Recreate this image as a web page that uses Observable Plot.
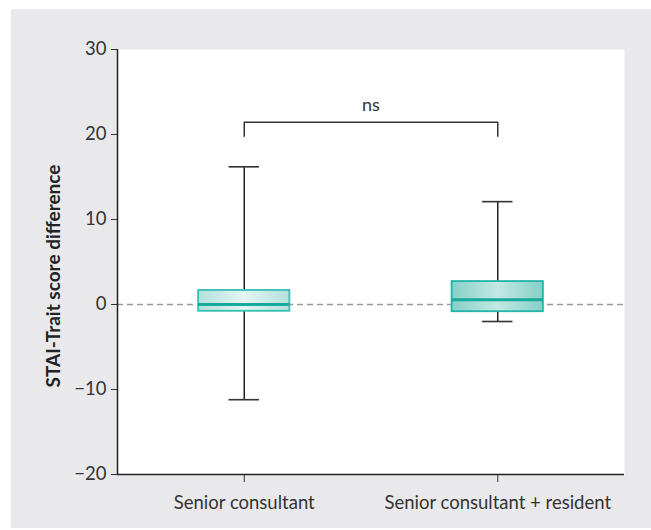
<!DOCTYPE html>
<html>
<head>
<meta charset="utf-8">
<script src="https://cdn.jsdelivr.net/npm/d3@7"></script>
<script src="https://cdn.jsdelivr.net/npm/@observablehq/plot@0.6"></script>
<style>
  html, body { margin: 0; padding: 0; background: #ffffff; }
  #wrap { position: relative; width: 651px; height: 530px; }
  #panel { position: absolute; left: 11px; top: 9px; width: 640px; height: 519px; background: #e9e9eb; }
  #chart { position: absolute; left: 0; top: 0; }
</style>
</head>
<body>
<div id="wrap"><div id="panel"></div><div id="chart"></div></div>
<script>
// ---- data ----
const categories = ["Senior consultant", "Senior consultant + resident"];
const whiskerLow  = [-11.2, -2.0];
const quartile1   = [-0.8, -0.85];
const medians     = [0.0, 0.55];
const quartile3   = [1.65, 2.7];
const whiskerHigh = [16.2, 12.1];
const yTicks = [-20, -10, 0, 10, 20, 30];
const yLabel = "STAI-Trait score difference";
const bracketTop = 21.45;
const bracketDrop = 19.8;
const bracketLabel = "ns";

// ---- styles ----
const gradEdge   = ["#b3e1dc", "#86d0c8"];
const gradCenter = ["#e4f5f3", "#c2e8e4"];
const boxStroke  = ["#34c1b4", "#22b4a6"];
const medianColor = "#17a99b";
const font = "Lato, 'Open Sans', sans-serif";

const rows = categories.map((c, i) => ({
  cat: c, x: i + 1, lo: whiskerLow[i], q1: quartile1[i], med: medians[i], q3: quartile3[i], hi: whiskerHigh[i]
}));
const boxHalf = 0.18, capHalf = 0.06;

const bracketPts = [
  {x: 1, y: bracketDrop}, {x: 1, y: bracketTop}, {x: 2, y: bracketTop}, {x: 2, y: bracketDrop}
];

const chart = Plot.plot({
  width: 651,
  height: 530,
  marginLeft: 117,
  marginRight: 27,
  marginTop: 49,
  marginBottom: 56,
  style: {background: "transparent", color: "#333", fontSize: "18.5px", fontFamily: font},
  x: {domain: [0.5, categories.length + 0.5], ticks: categories.map((_, i) => i + 1),
      tickFormat: i => categories[i - 1], tickSize: 8, tickPadding: 13, label: null},
  y: {domain: [yTicks[0], yTicks[yTicks.length - 1]], ticks: yTicks, tickSize: 6, tickPadding: 5, label: null},
  marks: [
    Plot.frame({fill: "white", stroke: null}),
    Plot.ruleY([0], {stroke: "#9a9a9a", strokeWidth: 1.3, strokeDasharray: "6,4"}),
    Plot.ruleX(rows, {x: "x", y1: "lo", y2: "hi", stroke: "#222", strokeWidth: 1.5}),
    Plot.ruleY(rows, {y: "hi", x1: d => d.x - capHalf, x2: d => d.x + capHalf, stroke: "#333", strokeWidth: 1.6}),
    Plot.ruleY(rows, {y: "lo", x1: d => d.x - capHalf, x2: d => d.x + capHalf, stroke: "#333", strokeWidth: 1.6}),
    ...rows.map((r, i) => Plot.rect([r], {
      x1: d => d.x - boxHalf, x2: d => d.x + boxHalf, y1: "q1", y2: "q3",
      fill: `url(#boxgrad${i})`, stroke: boxStroke[i], strokeWidth: 1.8
    })),
    Plot.ruleY(rows, {y: "med", x1: d => d.x - boxHalf, x2: d => d.x + boxHalf, stroke: medianColor, strokeWidth: 3}),
    Plot.line(bracketPts, {x: "x", y: "y", stroke: "#333", strokeWidth: 1.5}),
    Plot.text([bracketLabel], {x: 1.5, y: bracketTop, dy: -17, fontSize: 18, fill: "#333"}),
    Plot.ruleX([0.5], {stroke: "#222", strokeWidth: 1.5}),
    Plot.ruleY([yTicks[0]], {stroke: "#222", strokeWidth: 1.5})
  ]
});

// gradients for box fills
const svg = d3.select(chart);
const defs = svg.insert("defs", ":first-child");
gradEdge.forEach((edge, i) => {
  const g = defs.append("linearGradient").attr("id", `boxgrad${i}`).attr("x1", "0").attr("x2", "1").attr("y1", "0").attr("y2", "0");
  g.append("stop").attr("offset", "0%").attr("stop-color", edge);
  g.append("stop").attr("offset", "50%").attr("stop-color", gradCenter[i]);
  g.append("stop").attr("offset", "100%").attr("stop-color", edge);
});

// y-axis title
svg.append("text")
  .attr("transform", "translate(55,276) rotate(-90)")
  .attr("text-anchor", "middle")
  .attr("dominant-baseline", "middle")
  .attr("font-family", font)
  .attr("font-size", "19px")
  .attr("font-weight", "bold")
  .attr("fill", "#222")
  .text(yLabel);

document.getElementById("chart").appendChild(chart);
</script>
</body>
</html>
